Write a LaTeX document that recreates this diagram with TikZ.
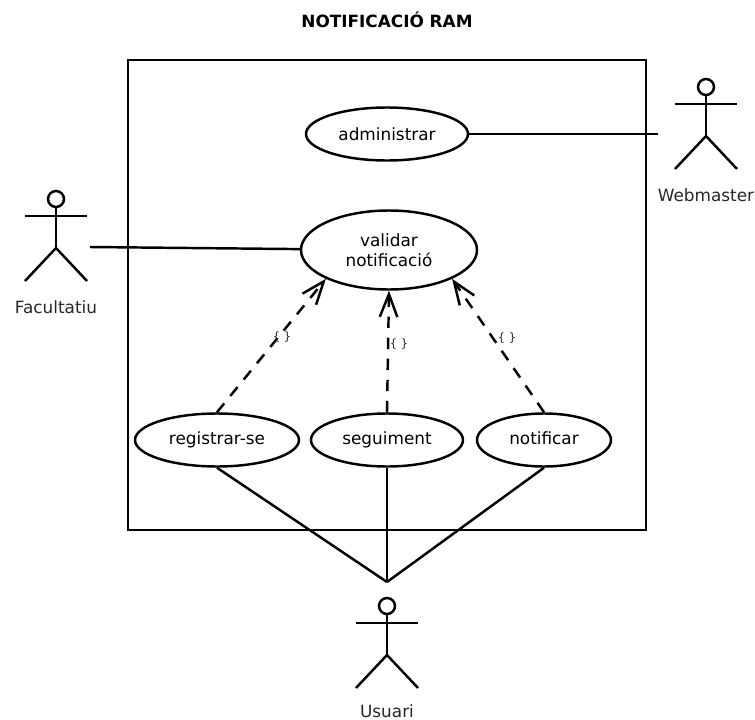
\documentclass[tikz,border=0pt]{standalone}
\usepackage{fontspec}
\setmainfont{DejaVu Sans}
\usetikzlibrary{shapes}
\usetikzlibrary{arrows.meta}
\tikzset{
	usecase/.style={ellipse, draw, line width=1.4pt, inner sep=0pt, font=\fontsize{9.6}{11.7}\selectfont, align=center},
	link/.style={line width=1.4pt},
	depend/.style={line width=1.4pt, dash pattern=on 6.5pt off 5.5pt, -{Straight Barb[length=13pt,width=10pt,line width=1.4pt]}},
	actorname/.style={font=\fontsize{9.6}{11.7}\selectfont, text=black!85},
	stereo/.style={font=\fontsize{6.5}{7}\selectfont, text=black!85, inner sep=0pt},
	actor/.pic={
		\draw[line width=1.4pt] (0,0) circle (8);
		\draw[line width=1.4pt] (-31,17) -- (31,17);
		\draw[line width=1.4pt] (0,8) -- (0,49);
		\draw[line width=1.4pt] (-31,82) -- (0,49) -- (31,82);
	}
}
\begin{document}
\begin{tikzpicture}[x=0.02cm, y=-0.02cm]
	\useasboundingbox (0,0) rectangle (755,720);
	\node[font=\fontsize{9.6}{11}\selectfont\bfseries] (title) at (387,20) {NOTIFICACIÓ RAM};
	\draw[line width=1.4pt] (128,60) rectangle (646,530);

	\node[usecase, minimum width=162*0.02cm, minimum height=53*0.02cm] (administrar) at (387,134) {administrar};
	\node[usecase, minimum width=176*0.02cm, minimum height=79*0.02cm] (validar) at (389,250) {validar\\notificació};
	\node[usecase, minimum width=164*0.02cm, minimum height=53*0.02cm] (registrar) at (217,440) {registrar-se};
	\node[usecase, minimum width=152*0.02cm, minimum height=53*0.02cm] (seguiment) at (387,440) {seguiment};
	\node[usecase, minimum width=134*0.02cm, minimum height=53*0.02cm] (notificar) at (544,440) {notificar\vphantom{g}};

	\pic at (706,87) {actor};
	\pic at (56,199) {actor};
	\pic at (387,606) {actor};
	\node[actorname] (webmaster) at (706,195) {Webmaster};
	\node[actorname] (facultatiu) at (56,307) {Facultatiu};
	\node[actorname] (usuari) at (387,711) {Usuari};

	\coordinate (webhand) at (658,134);
	\coordinate (fachand) at (90,247);
	\coordinate (usutop) at (387,582);

	\draw[link] (administrar) -- (webhand);
	\draw[link] (validar) -- (fachand);
	\draw[link] (registrar.south) -- (usutop);
	\draw[link] (seguiment.south) -- (usutop);
	\draw[link] (notificar.south) -- (usutop);

	\draw[depend] (registrar.north) -- (validar.south west);
	\draw[depend] (seguiment.north) -- (validar.south);
	\draw[depend] (notificar.north) -- (validar.south east);

	\node[stereo] (s1) at (282,337) {\{ \}};
	\node[stereo] (s2) at (399,344) {\{ \}};
	\node[stereo] (s3) at (507,338) {\{ \}};
\end{tikzpicture}
\end{document}
